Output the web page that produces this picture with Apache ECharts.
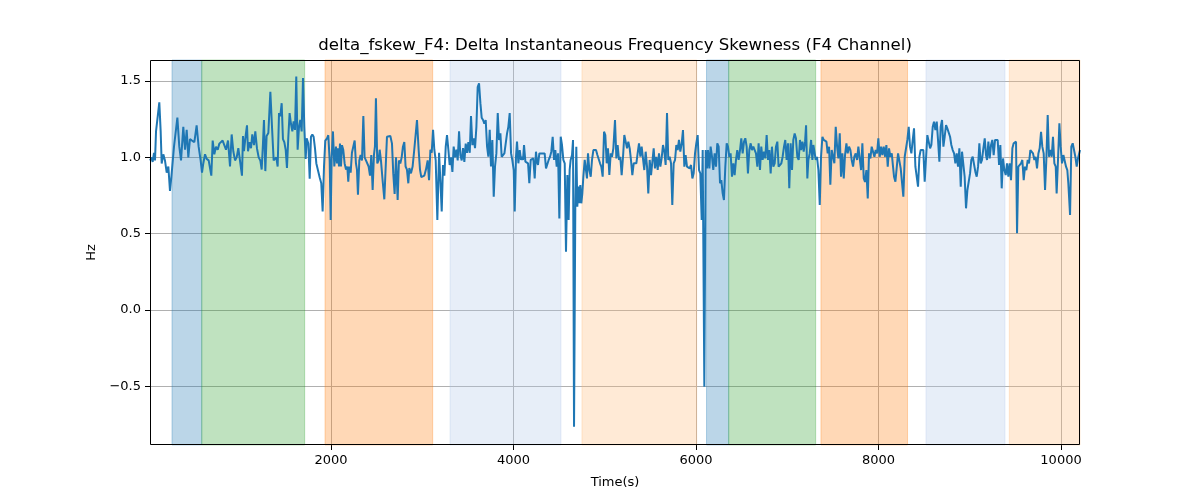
<!DOCTYPE html>
<html>
<head>
<meta charset="utf-8">
<script src="https://cdn.jsdelivr.net/npm/echarts@6/dist/echarts.min.js"></script>
<style>
html,body{margin:0;padding:0;background:#fff;}
#chart{width:1200px;height:500px;}
</style>
</head>
<body>
<div id="chart"></div>
<script>
const chartTitle = 'delta_fskew_F4: Delta Instantaneous Frequency Skewness (F4 Channel)';
const xAxisName = 'Time(s)';
const yAxisName = 'Hz';
const xTicks = [2000, 4000, 6000, 8000, 10000];
const yTicks = [-0.5, 0, 0.5, 1.0, 1.5];
const xRange = [16, 10208];
const yRange = [-0.885, 1.638];

const times = [
16,34,45,60,71,82,100,118,133,144,162,180,199,217,235,250,264,279,294,316,337,356,381,400,418,436,454,476,502,527,549,571,586,600,619,637,659,688,703,721,739,758,776,790,812,831,849,871,893,911,929,948,966,984,1002,1024,
1035,1046,1064,1079,1090,1108,1123,1137,1156,1170,1188,1207,1225,1240,1254,1265,1280,1294,1313,1335,1353,1371,1386,1400,1415,1430,1444,1459,1473,1488,1503,1517,1532,1546,1561,1576,1590,1605,1619,1634,1649,1663,1678,1693,1707,1722,1733,1751,1766,1780,1795,1809,1824,1839,1857,1875,1893,1908,1923,1937,1956,1970,1985,1996,2007,2021,2036,
2054,2065,2076,2087,2098,2109,2120,2134,2149,2164,2178,2189,2200,2215,2229,2244,2259,2273,2284,2295,2310,2324,2339,2354,2368,2383,2397,2412,2427,2441,2456,2470,2481,2492,2507,2522,2533,2547,2565,2584,2602,2613,2631,2650,2668,2682,2697,2712,2730,2744,2759,2774,2788,2803,2817,2832,2847,2858,2876,2894,2912,2942,2960,2975,2989,3004,3022,3040,3059,
3074,3089,3103,3118,3132,3147,3165,3184,3198,3213,3227,3242,3257,3271,3286,3300,3315,3330,3344,3359,3374,3388,3403,3417,3432,3447,3461,3476,3490,3505,3520,3534,3549,3563,3578,3593,3607,3622,3637,3651,3666,3680,3695,3710,3724,3739,3753,3768,3783,3797,3812,3827,3841,3856,3870,3885,3900,3914,3929,3943,3958,3973,3987,4002,4013,4027,4038,4053,4068,4082,
4093,4104,4115,4130,4144,4159,4173,4188,4203,4217,4232,4246,4257,4268,4283,4298,4312,4327,4341,4356,4371,4385,4400,4414,4429,4444,4458,4473,4488,4502,4517,4531,4546,4561,4575,4590,4604,4615,4626,4641,4652,4663,4677,4688,4699,4710,4721,4732,4743,4754,4765,4780,4794,4805,4816,4831,4846,4860,4875,4889,4904,4919,4933,4948,4962,4977,4992,5006,5021,5035,5050,5065,5079,5094,
5112,5127,5141,5156,5170,5185,5200,5214,5229,5244,5258,5273,5287,5302,5317,5331,5346,5360,5375,5390,5404,5419,5433,5448,5463,5477,5492,5507,5521,5536,5550,5565,5580,5594,5609,5623,5638,5653,5667,5682,5696,5711,5726,5740,5755,5770,5784,5799,5813,5828,5843,5857,5872,5886,5901,5916,5930,5945,5960,5974,5989,6003,6018,6033,6047,6062,6073,6084,6091,6106,6120,
6131,6146,6160,6175,6189,6204,6219,6233,6248,6263,6277,6292,6306,6321,6336,6350,6365,6379,6394,6409,6423,6438,6452,6467,6482,6496,6511,6526,6540,6555,6569,6584,6599,6613,6628,6642,6657,6672,6686,6701,6715,6730,6745,6759,6774,6789,6803,6818,6832,6847,6862,6876,6891,6905,6920,6935,6949,6964,6978,6993,7008,7022,7037,7052,7066,7081,7095,7110,7125,7139,
7151,7166,7180,7195,7206,7220,7231,7246,7261,7275,7286,7297,7312,7326,7341,7356,7370,7385,7399,7414,7429,7443,7458,7472,7487,7502,7516,7531,7546,7560,7575,7589,7604,7619,7633,7648,7662,7677,7692,7706,7721,7735,7750,7765,7779,7794,7809,7823,7838,7852,7867,7882,7896,7911,7925,7940,7955,7969,7984,7998,8013,8028,8042,8057,8072,8086,8101,8115,8130,8145,8159,
8170,8185,8199,8214,8228,8243,8258,8272,8287,8302,8316,8331,8345,8360,8375,8389,8404,8418,8433,8448,8462,8477,8491,8506,8521,8535,8550,8565,8579,8594,8608,8623,8638,8652,8667,8681,8696,8711,8725,8740,8754,8769,8784,8798,8813,8828,8842,8857,8871,8886,8901,8915,8930,8944,8959,8974,8988,9003,9017,9032,9047,9061,9076,9091,9105,9120,9134,9149,9164,9178,
9189,9204,9218,9233,9247,9262,9277,9291,9306,9321,9335,9350,9364,9379,9394,9408,9423,9437,9452,9467,9481,9496,9507,9518,9532,9547,9562,9576,9591,9605,9620,9635,9649,9664,9679,9693,9708,9722,9737,9752,9766,9781,9795,9810,9825,9839,9854,9868,9883,9898,9912,9927,9942,9952,9967,9982,9996,10011,10026,10040,10055,10069,10080,10099,10113,10128,10142,10157,10172,10186,10208
];

const values = [
0.98,1.00,0.97,1.03,0.98,1.17,1.17,1.36,1.17,0.96,1.02,0.98,0.90,0.94,0.78,0.87,0.88,1.07,1.08,1.26,1.07,0.98,1.20,1.05,1.18,1.00,1.12,1.11,1.10,1.21,1.07,0.98,0.90,0.96,1.02,0.99,0.98,0.88,1.11,1.02,1.07,1.05,1.09,1.10,1.11,1.11,1.05,1.11,0.94,1.15,1.04,0.98,1.00,1.06,1.05,0.88,
1.14,1.04,1.14,1.21,1.04,1.10,1.06,1.15,1.08,1.17,1.06,1.00,0.98,0.92,1.09,1.245,0.91,1.14,1.16,1.43,1.20,0.98,0.97,1.00,0.94,1.29,1.27,1.355,1.12,1.10,1.05,0.93,1.135,1.29,1.22,1.17,1.235,1.18,1.53,1.05,1.20,1.245,1.17,1.52,1.20,0.99,1.125,1.09,0.86,1.135,1.15,1.135,1.06,0.96,0.97,0.87,0.83,0.645,0.94,1.11,1.125,1.145,0.98,0.59,1.00,1.17,0.94,
1.07,0.96,1.06,0.94,1.09,0.94,1.08,1.05,0.96,0.92,0.94,0.84,0.94,0.90,1.03,1.02,1.11,0.96,0.92,0.755,0.98,1.015,0.98,1.27,1.00,0.98,0.99,0.94,0.88,1.015,0.786,1.015,1.07,1.387,0.96,0.98,1.05,0.98,0.85,0.725,0.98,1.135,1.146,1.14,1.09,0.895,0.76,1.00,0.72,0.98,0.96,1.00,1.07,1.10,0.94,0.92,0.83,0.93,0.895,0.94,1.05,1.245,1.05,0.92,0.87,0.86,0.88,0.92,0.98,
0.85,1.05,1.03,1.18,1.05,0.98,0.59,1.03,0.85,0.645,0.95,0.88,1.07,1.146,1.05,0.95,1.00,0.905,1.07,1.00,1.05,0.98,1.17,1.015,0.98,1.06,0.97,1.09,1.03,1.10,1.03,1.27,1.08,1.125,1.06,1.20,1.46,1.485,1.355,1.26,1.245,1.22,1.245,1.07,1.004,1.18,0.94,1.114,0.742,0.94,1.026,1.29,1.114,1.157,1.004,0.993,1.026,1.09,1.157,1.20,1.29,1.026,0.98,0.917,0.645,1.004,1.103,0.961,1.048,0.983,
1.004,0.983,1.081,0.972,0.961,0.961,0.83,0.983,0.972,0.993,0.862,1.037,0.972,0.95,1.026,1.026,1.026,1.015,1.026,0.928,0.917,0.983,1.004,1.037,1.135,0.983,1.048,0.939,1.026,0.60,1.135,1.081,0.983,0.961,0.382,0.884,0.589,0.917,0.983,1.015,1.114,-0.765,0.677,1.07,0.677,0.808,0.699,0.819,0.699,0.764,0.873,0.983,0.917,0.862,1.026,0.917,0.873,0.983,1.048,1.059,1.048,1.015,1.004,0.961,0.939,0.873,1.168,1.146,0.961,1.059,0.884,1.026,1.004,1.059,
1.245,0.993,1.081,0.983,1.004,0.884,1.004,1.146,1.103,1.059,1.103,1.059,0.983,0.884,0.961,0.972,0.961,1.026,1.092,1.004,1.07,1.059,0.917,1.037,0.939,0.764,0.983,0.884,0.873,1.059,0.928,1.004,0.917,1.026,0.939,0.993,1.081,1.037,0.95,1.29,0.983,1.004,0.961,0.688,0.961,0.983,1.081,1.048,1.114,1.037,1.092,1.179,0.939,1.015,0.939,0.939,0.928,0.95,0.862,0.895,1.026,1.092,1.146,0.917,0.895,0.589,1.048,1.037,-0.503,1.048,0.928,
1.048,0.928,1.07,1.004,0.917,1.026,0.939,1.092,1.07,0.83,0.851,0.764,0.72,0.939,1.092,1.07,1.004,1.026,0.873,0.961,0.884,0.983,1.048,0.983,1.048,1.125,1.026,1.103,1.125,1.07,0.895,1.048,1.092,1.048,1.07,1.07,1.026,0.939,1.092,0.917,1.07,0.983,1.037,0.993,1.146,0.983,1.048,0.895,1.07,0.939,0.961,1.07,1.103,0.939,0.939,0.961,1.004,1.07,1.114,0.983,1.092,0.797,1.092,0.917,1.114,1.157,1.125,1.004,0.983,1.114,
1.048,1.103,1.037,1.103,1.21,0.862,0.983,1.026,1.114,0.983,1.081,1.07,0.983,1.004,0.917,0.688,1.004,1.135,1.114,1.125,1.103,1.026,1.07,0.82,1.048,1.059,0.961,1.20,1.07,0.993,1.157,0.873,1.026,0.862,1.015,1.092,1.026,1.07,1.048,0.983,0.939,1.004,1.026,0.983,1.07,1.081,0.917,1.092,0.862,0.84,0.917,0.731,1.026,0.993,1.07,1.059,1.004,1.048,1.026,1.125,1.004,1.07,1.015,1.07,1.004,1.081,0.939,1.059,1.004,1.026,0.939,
0.873,0.84,0.84,1.026,1.037,0.928,0.939,0.742,1.004,1.015,1.114,1.20,1.07,1.026,1.114,1.19,0.939,0.95,0.808,1.004,1.048,1.037,1.048,0.84,0.851,1.146,1.135,1.059,1.081,1.20,1.234,1.179,1.234,1.114,0.972,1.20,1.245,1.07,1.135,1.212,1.19,1.179,1.135,1.081,1.048,1.026,0.961,1.026,0.939,1.059,0.808,1.037,1.048,0.873,0.666,0.786,0.797,0.895,0.983,1.004,1.004,0.906,0.873,0.939,1.092,0.961,0.983,1.059,1.125,1.015,
0.983,1.103,0.993,1.081,1.114,1.015,1.114,1.118,1.114,0.95,1.081,0.797,0.993,0.917,0.884,0.961,0.873,0.961,0.851,1.059,1.092,1.081,1.103,0.502,0.939,0.95,0.961,0.983,0.851,0.939,0.917,0.983,0.961,1.048,1.048,1.026,0.983,1.004,0.928,1.026,1.059,1.168,1.07,1.026,0.786,0.983,1.277,1.004,1.048,1.004,1.135,0.961,0.939,0.764,0.983,1.223,1.07,0.961,1.015,1.004,0.939,0.917,0.83,0.622,1.07,1.092,1.103,1.004,0.939,0.993,1.048
];

// shaded time intervals (start, end, kind)
const spanStarts = [257, 583, 1934, 3304, 4750, 6115, 6358, 7369, 8520, 9433];
const spanEnds   = [583, 1711, 3114, 4520, 6007, 6358, 7311, 8318, 9386, 10208];
const spanKinds  = ['blue', 'green', 'orange', 'lightblue', 'lightorange', 'blue', 'green', 'orange', 'lightblue', 'lightorange'];

// ---- styling ----
const kindColors = {
  blue: 'rgba(31,119,180,0.3)',
  green: 'rgba(44,160,44,0.3)',
  orange: 'rgba(255,127,14,0.3)',
  lightblue: 'rgba(174,199,232,0.3)',
  lightorange: 'rgba(255,187,120,0.3)'
};
const FONT = 'DejaVu Sans';
const lineData = times.map((t, i) => [t, values[i]]);
const areaData = spanStarts.map((s, i) => [
  { xAxis: s, itemStyle: { color: kindColors[spanKinds[i]], borderColor: kindColors[spanKinds[i]], borderWidth: 1 } },
  { xAxis: spanEnds[i] }
]);
const fmtMinus = v => {
  let s = (Math.abs(v) < 1e-9) ? '0.0' : (Number.isInteger(v) ? v.toFixed(1) : String(v));
  return s.replace('-', '\u2212');
};

const chart = echarts.init(document.getElementById('chart'), null, { renderer: 'canvas' });
chart.setOption({
  animation: false,
  backgroundColor: '#fff',
  textStyle: { fontFamily: FONT },
  grid: { left: 150, right: 120, top: 60, bottom: 55, show: false },
  graphic: [
    {
      type: 'text', x: 615, y: 46, z: 10,
      style: { text: chartTitle, font: '16.6px "DejaVu Sans"', fill: '#000', textAlign: 'center', textVerticalAlign: 'middle' }
    },
    {
      type: 'rect', z: 100, silent: true,
      shape: { x: 150.5, y: 60.5, width: 929, height: 384 },
      style: { fill: null, stroke: '#000', lineWidth: 1 }
    }
  ],
  xAxis: {
    type: 'value', min: xRange[0], max: xRange[1],
    name: xAxisName, nameLocation: 'middle', nameGap: 31,
    nameTextStyle: { fontFamily: FONT, fontSize: 13, color: '#000' },
    axisLine: { show: false, onZero: false },
    axisTick: { show: true, inside: false, length: 5, customValues: xTicks, lineStyle: { color: '#000' } },
    axisLabel: { customValues: xTicks, margin: 9, fontFamily: FONT, fontSize: 13, color: '#000', formatter: v => String(v) },
    splitLine: { show: true, lineStyle: { color: '#b0b0b0', width: 1 } }
  },
  yAxis: {
    type: 'value', min: yRange[0], max: yRange[1],
    name: yAxisName, nameLocation: 'middle', nameGap: 45, nameRotate: 90,
    nameTextStyle: { fontFamily: FONT, fontSize: 13, color: '#000' },
    axisLine: { show: false, onZero: false },
    axisTick: { show: true, inside: false, length: 5, customValues: yTicks, lineStyle: { color: '#000' } },
    axisLabel: { customValues: yTicks, margin: 9, fontFamily: FONT, fontSize: 13, color: '#000', formatter: fmtMinus },
    splitLine: { show: true, lineStyle: { color: '#b0b0b0', width: 1 } }
  },
  series: [
    {
      type: 'line', data: [], z: 1, silent: true,
      markArea: { silent: true, data: areaData }
    },
    {
      type: 'line', data: lineData, z: 3,
      showSymbol: false, symbol: 'none',
      lineStyle: { color: '#1f77b4', width: 2 },
      itemStyle: { color: '#1f77b4' }
    }
  ]
});
</script>
</body>
</html>
